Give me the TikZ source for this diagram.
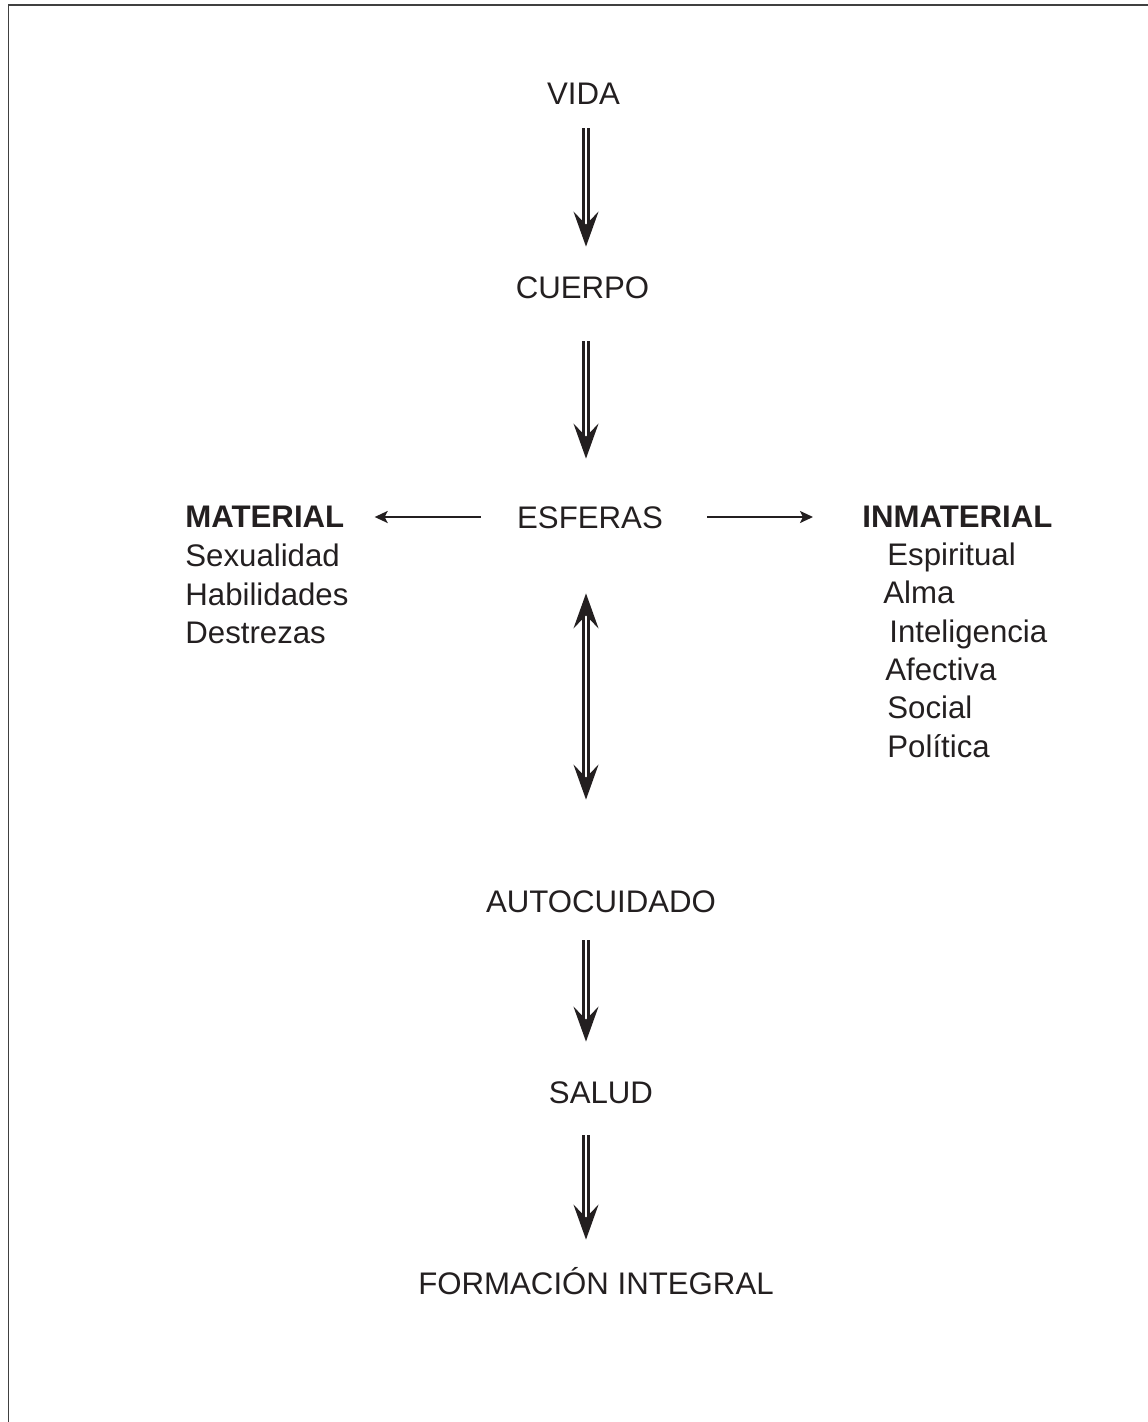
\documentclass[tikz,border=0pt]{standalone}
\usepackage{fontspec}
\setmainfont{Liberation Sans}
\usepackage{tikz}
\usetikzlibrary{arrows.meta}
\definecolor{ink}{RGB}{35,31,32}

\begin{document}
\begin{tikzpicture}
[x=0.5pt, y=-0.5pt,
 every node/.style={inner sep=0pt, text height=11pt, text depth=0pt, text=ink, font=\fontsize{15.6}{19}\selectfont},
 word/.style={anchor=base},
 item/.style={anchor=base west},
 flow/.style={draw=ink, double, line width=1.1pt, double distance=1.4pt, -{Stealth[length=17.5pt, width=12.5pt, inset=6.5pt]}},
 twoway/.style={draw=ink, double, line width=1.1pt, double distance=1.4pt, {Stealth[length=17.5pt, width=12.5pt, inset=6.5pt]}-{Stealth[length=17.5pt, width=12.5pt, inset=6.5pt]}},
 side/.style={draw=ink, line width=1pt, -{Stealth[length=6.5pt, width=6pt, inset=1.5pt]}}]
\useasboundingbox (0,0) rectangle (1147,1422);
\draw [line width=0.9pt, color=black!75] (8.5,1430) -- (8.5,5) -- (1160,5);
\coordinate (axis) at (586,0);
% main column
\node (vida) [word] at (583.5,105) {VIDA};
\node (cuerpo) [word] at (582.5,299) {CUERPO};
\node (esferas) [word] at (590,528) {ESFERAS};
\node (auto) [word] at (601,912) {AUTOCUIDADO};
\node (salud) [word] at (601,1103) {SALUD};
\node (formacion) [word] at (596,1294) {FORMACIÓN INTEGRAL};
% left list
\node (material) [item] at (185,527) {\bfseries MATERIAL};
\node (sexualidad) [item] at (185,566) {Sexualidad};
\node (habilidades) [item] at (185,605) {Habilidades};
\node (destrezas) [item] at (185,643) {Destrezas};
% right list
\node (inmaterial) [item] at (862,527) {\bfseries INMATERIAL};
\node (espiritual) [item] at (887,565) {Espiritual};
\node (alma) [item] at (883,603) {Alma};
\node (inteligencia) [item] at (889,642) {Inteligencia};
\node (afectiva) [item] at (885,680) {Afectiva};
\node (social) [item] at (887,718) {Social};
\node (politica) [item] at (887,757) {Política};
% arrows
\draw [flow, shorten <=11.5pt, shorten >=15pt] (vida.south -| axis) to (cuerpo.north -| axis);
\draw [flow, shorten <=21pt, shorten >=23.5pt] (cuerpo.south -| axis) to (esferas.north -| axis);
\draw [twoway, shorten <=32.5pt, shorten >=45pt] (esferas.south -| axis) to (auto.north -| axis);
\draw [flow, shorten <=14pt, shorten >=19.5pt] (auto.south -| axis) to (salud.north -| axis);
\draw [flow, shorten <=16pt, shorten >=16pt] (salud.south -| axis) to (formacion.north -| axis);
\draw [side, shorten <=18pt, shorten >=15pt] (esferas.west) to (material.east |- esferas.west);
\draw [side, shorten <=22pt, shorten >=24.5pt] (esferas.east) to (inmaterial.west |- esferas.east);
\end{tikzpicture}
\end{document}
